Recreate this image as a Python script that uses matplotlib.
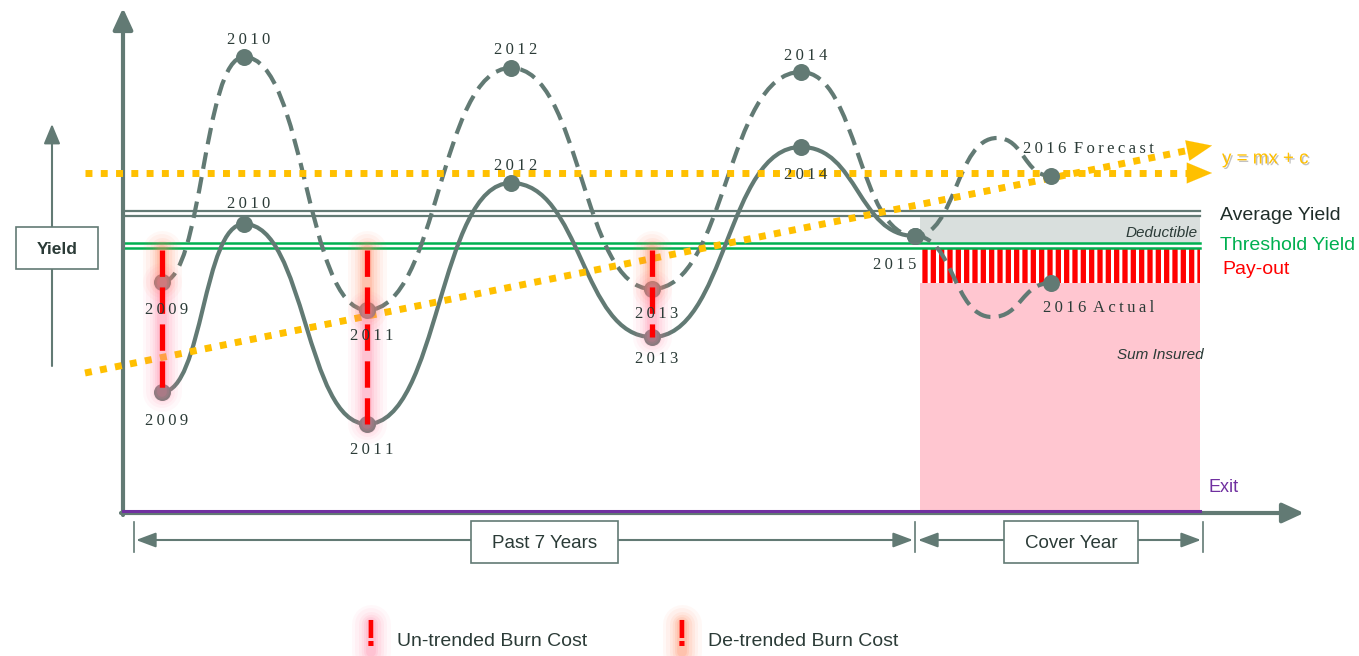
import matplotlib.pyplot as plt
import matplotlib.patheffects as pe
from matplotlib.path import Path
from matplotlib.patches import PathPatch, Rectangle

plt.rcParams['font.family'] = ['Liberation Sans', 'DejaVu Sans']
plt.rcParams['hatch.linewidth'] = 2.2

# schematic: everything lives on a 1359x656 pixel canvas, y grows downward
years = ['2009', '2010', '2011', '2012', '2013', '2014', '2015']
year_x = [162, 244, 367, 511, 652, 801, 915]
untrended_y = [392, 224, 424, 183, 337, 147, 236]
detrended_y = [282, 57, 310, 68, 289, 72, 236]

# cover year: the forecast loop and the actual dip after 2015
forecast_x = [915, 997, 1051]
forecast_y = [236, 138, 176]
actual_x = [915, 992, 1051]
actual_y = [236, 317, 283]

burn_idx = [0, 2, 4]          # years with a loss (2009, 2011, 2013)
average_yield = [211, 216]
threshold_yield = [243, 248]
payout_bottom = 283
exit_level = 511

# trend lines (start / end)
flat_trend = ([85, 1190], [173, 173])
slope_trend = ([85, 1190], [373, 150])

GRAY = '#627a74'
DARK = '#2b3b37'
ORANGE = '#ffc000'
GREEN = '#00b050'
PURPLE = '#7030a0'


def smooth_path(xs, ys, k=0.5):
    verts = [(xs[0], ys[0])]
    codes = [Path.MOVETO]
    for i in range(1, len(xs)):
        dx = xs[i] - xs[i - 1]
        verts += [(xs[i - 1] + k * dx, ys[i - 1]), (xs[i] - k * dx, ys[i]), (xs[i], ys[i])]
        codes += [Path.CURVE4] * 3
    return Path(verts, codes)


def spaced(s):
    # letter-spaced serif labels as in the original slide
    return '\u2009 '.join('\u2009'.join(w) for w in s.split(' '))


fig = plt.figure(figsize=(13.59, 6.56), dpi=100)
ax = fig.add_axes([0, 0, 1, 1])
ax.set_xlim(0, 1359)
ax.set_ylim(656, 0)
ax.axis('off')

x0, x1 = 920, 1200

# cover-year blocks
ax.add_patch(Rectangle((x0, average_yield[1]), x1 - x0, threshold_yield[0] - average_yield[1],
                       facecolor='#d9dfdd', edgecolor='none', zorder=1))
ax.add_patch(Rectangle((x0, threshold_yield[1] + 1), x1 - x0, payout_bottom - threshold_yield[1] - 1,
                       facecolor='red', edgecolor='white', lw=0, hatch='||', zorder=1))
ax.add_patch(Rectangle((x0, payout_bottom), x1 - x0, exit_level - payout_bottom,
                       facecolor='#ffc6d0', edgecolor='none', zorder=1))

# reference yield lines
for y in average_yield:
    ax.plot([123, x1], [y, y], color=GRAY, lw=1.6, zorder=2)
for y in threshold_yield:
    ax.plot([123, x1], [y, y], color=GREEN, lw=1.8, zorder=2)

# axes
ax.annotate('', xy=(123, 8), xytext=(123, 515),
            arrowprops=dict(arrowstyle='-|>,head_length=1.3,head_width=0.6', color=GRAY, lw=3,
                            shrinkA=0, shrinkB=0, mutation_scale=10), zorder=3)
ax.annotate('', xy=(1304, 513), xytext=(121, 513),
            arrowprops=dict(arrowstyle='-|>,head_length=1.3,head_width=0.6', color=GRAY, lw=3,
                            shrinkA=0, shrinkB=0, mutation_scale=10), zorder=3)
ax.plot([123, x1], [exit_level, exit_level], color=PURPLE, lw=2.2, zorder=3)

# small yield arrow on the left
ax.annotate('', xy=(52, 124), xytext=(52, 366),
            arrowprops=dict(arrowstyle='-|>,head_length=1.2,head_width=0.5', color=GRAY, lw=1.5,
                            shrinkA=0, shrinkB=0, mutation_scale=10))
ax.add_patch(Rectangle((16, 227), 82, 42, facecolor='white', edgecolor=GRAY, lw=1.2, zorder=4))
ax.text(57, 249, 'Yield', ha='center', va='center', fontsize=12.5, fontweight='bold',
        color=DARK, zorder=5)

# curves
ax.add_patch(PathPatch(smooth_path(year_x, untrended_y), fill=False, edgecolor=GRAY, lw=3, zorder=4))
ax.add_patch(PathPatch(smooth_path(year_x + forecast_x[1:], detrended_y + forecast_y[1:]),
                       fill=False, edgecolor=GRAY, lw=3, linestyle=(0, (4, 2)), zorder=4))
ax.add_patch(PathPatch(smooth_path(actual_x, actual_y), fill=False, edgecolor=GRAY, lw=3,
                       linestyle=(0, (4, 2)), zorder=4))

# trend lines
for xs, ys in [flat_trend, slope_trend]:
    ax.plot(xs, ys, color=ORANGE, lw=5, dashes=(1, 1.2), solid_capstyle='butt',
            dash_capstyle='butt', zorder=5)
    ax.annotate('', xy=(xs[1] + 22, ys[1] + (ys[1] - ys[0]) / (xs[1] - xs[0]) * 22),
                xytext=(xs[1], ys[1]),
                arrowprops=dict(arrowstyle='-|>,head_length=1.8,head_width=0.75', color=ORANGE,
                                lw=0.1, shrinkA=0, shrinkB=0, mutation_scale=10), zorder=5)
ax.text(1222, 159, 'y = mx + c', color=ORANGE, fontsize=13.5, va='center', ha='left', zorder=5,
        path_effects=[pe.withSimplePatchShadow(offset=(1.2, -1.2), shadow_rgbFace='#9a9a9a', alpha=0.6)])

# points
ax.scatter(year_x, untrended_y, s=150, color=GRAY, zorder=6, linewidths=0)
ax.scatter(year_x, detrended_y, s=150, color=GRAY, zorder=6, linewidths=0)
ax.scatter([forecast_x[-1], actual_x[-1]], [forecast_y[-1], actual_y[-1]], s=150, color=GRAY,
           zorder=6, linewidths=0)


def glow(x, ya, yb, color):
    for lw, a in [(28, 0.05), (23, 0.06), (18, 0.08), (14, 0.1), (10, 0.13), (7, 0.16)]:
        ax.plot([x, x], [ya, yb], color=color, lw=lw, alpha=a, solid_capstyle='round', zorder=7)


# burn cost bars
top = threshold_yield[1] + 2
for i in burn_idx:
    x = year_x[i]
    glow(x, top, detrended_y[i], '#ff7f50')
    glow(x, detrended_y[i], untrended_y[i], '#ff7fa0')
    ax.plot([x, x], [top, untrended_y[i]], color='red', lw=3.8, dashes=(5, 2), zorder=8)

# year labels
lab_dy_d = [28, -17, 26, -18, 25, -16]
lab_dy_u = [29, -20, 26, -17, 22, 28]
serif = ['Liberation Serif', 'DejaVu Serif']
for i in range(6):
    ax.text(year_x[i] + 5, detrended_y[i] + lab_dy_d[i], spaced(years[i]), ha='center',
            va='center', fontsize=12, family=serif, color=DARK, zorder=9)
    ax.text(year_x[i] + 5, untrended_y[i] + lab_dy_u[i], spaced(years[i]), ha='center',
            va='center', fontsize=12, family=serif, color=DARK, zorder=9)
ax.text(year_x[6] - 20, untrended_y[6] + 29, spaced('2015'), ha='center', va='center',
        fontsize=12, family=serif, color=DARK, zorder=0.5)
ax.text(1088, 149, spaced('2016 Forecast'), ha='center', va='center',
        fontsize=12, family=serif, color=DARK, zorder=9)
ax.text(1099, 308, spaced('2016 Actual'), ha='center', va='center',
        fontsize=12, family=serif, color=DARK, zorder=9)

# right-hand legend text
ax.text(1220, 215, 'Average Yield', color='#1f2d29', fontsize=14, va='center')
ax.text(1220, 245, 'Threshold Yield', color=GREEN, fontsize=14, va='center')
ax.text(1222, 270, 'Pay-out', color='red', fontsize=14, va='center')
ax.text(1198, 233, 'Deductible', color=DARK, fontsize=11, style='italic', va='center', ha='right')
ax.text(1204, 355, 'Sum Insured', color=DARK, fontsize=11, style='italic', va='center', ha='right')
ax.text(1208, 487, 'Exit', color=PURPLE, fontsize=13, va='center')

# period ranges along the bottom
for xa, xb, label, bx, bw in [(136, 913, 'Past 7 Years', 471, 147), (918, 1201, 'Cover Year', 1004, 134)]:
    ax.annotate('', xy=(xa, 540), xytext=(xb, 540),
                arrowprops=dict(arrowstyle='<|-|>,head_length=1.2,head_width=0.45', color=GRAY,
                                lw=1.5, shrinkA=0, shrinkB=0, mutation_scale=10))
    ax.add_patch(Rectangle((bx, 521), bw, 42, facecolor='white', edgecolor=GRAY, lw=1.2, zorder=4))
    ax.text(bx + bw / 2, 543, label, ha='center', va='center', fontsize=13.5, color=DARK, zorder=5)
for x in [134, 915, 1203]:
    ax.plot([x, x], [522, 552], color=GRAY, lw=1.2)

# bottom legend
for x, label, col in [(371, 'Un-trended Burn Cost', '#ff7fa0'), (682, 'De-trended Burn Cost', '#ff7f50')]:
    glow(x, 624, 652, col)
    ax.text(x, 637, '!', color='red', fontsize=26, fontweight='bold', ha='center', va='center', zorder=9)
    ax.text(x + 26, 642, label, color=DARK, fontsize=14, va='center', ha='left')

fig.savefig('out.png', dpi=100)
